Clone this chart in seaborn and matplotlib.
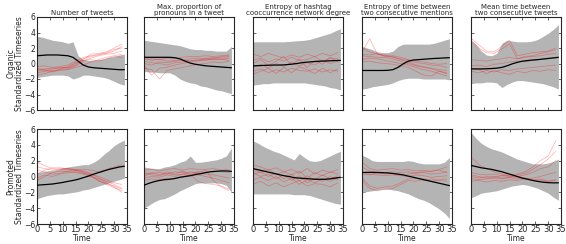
import numpy as np
import pandas as pd
import seaborn as sns
import matplotlib.pyplot as plt

# time grids
t_band = [0, 2, 4, 6, 8, 10, 12, 14, 16, 18, 20, 22, 24, 26, 28, 30, 32, 34]
t_red = [0, 3, 6, 9, 12, 15, 18, 21, 24, 27, 30, 33]

titles = ['Number of tweets', 'Max. proportion of\npronouns in a tweet',
          'Entropy of hashtag\ncooccurrence network degree',
          'Entropy of time between\ntwo consecutive mentions',
          'Mean time between\ntwo consecutive tweets']
row_names = ['Organic', 'Promoted']

# ---- Organic row ----
mean_org_tweets = [1.0, 1.05, 1.1, 1.1, 1.1, 1.05, 1.0, 0.8, 0.3, -0.2, -0.45, -0.55, -0.6, -0.65, -0.7, -0.75, -0.8, -0.8]
up_org_tweets = [3.5, 3.4, 3.2, 3.0, 2.9, 2.8, 2.6, 2.8, 1.0, 0.5, 0.4, 0.4, 0.5, 0.6, 0.8, 0.9, 1.1, 1.2]
lo_org_tweets = [-1.8, -1.7, -1.6, -1.5, -1.5, -1.5, -1.6, -2.0, -1.8, -1.5, -1.5, -1.6, -1.7, -1.8, -2.0, -2.3, -2.6, -2.8]
red_org_tweets = [
    [-0.4, -0.3, -0.5, -0.4, -0.2, 0.3, 0.8, 1.0, 1.2, 1.3, 1.6, 2.2],
    [-0.8, -0.7, -0.6, -0.6, -0.5, 0.0, 0.6, 0.9, 1.1, 1.4, 1.8, 2.0],
    [-1.2, -1.0, -0.9, -0.8, -0.7, -0.3, 0.3, 0.7, 1.0, 1.2, 1.3, 1.6],
    [-1.5, -1.3, -1.0, -0.9, -0.8, -0.5, -0.2, 0.2, 0.5, 0.8, 1.0, 1.2],
    [-0.6, -0.9, -0.7, -0.5, -0.6, -0.2, 0.5, 1.2, 1.3, 1.5, 2.0, 2.5],
    [-1.0, -0.8, -1.1, -0.7, -0.4, 0.1, 0.4, 0.5, 0.3, 0.6, 0.9, 0.8]]

mean_org_pron = [0.8, 0.8, 0.8, 0.8, 0.8, 0.8, 0.75, 0.6, 0.3, 0.05, -0.1, -0.2, -0.3, -0.35, -0.4, -0.45, -0.5, -0.55]
up_org_pron = [3.0, 2.9, 2.8, 2.7, 2.6, 2.5, 2.4, 2.3, 2.1, 1.9, 1.8, 1.8, 1.7, 1.7, 1.6, 1.6, 1.6, 2.2]
lo_org_pron = [-1.0, -1.1, -1.1, -1.2, -1.2, -1.2, -1.5, -2.0, -2.3, -2.5, -2.6, -2.9, -3.0, -3.2, -3.4, -3.5, -3.7, -3.9]
red_org_pron = [
    [0.5, 0.6, 0.5, 0.7, 0.6, 0.8, 0.9, 0.9, 1.0, 0.9, 1.0, 1.1],
    [0.0, -0.2, 0.2, 0.1, 0.3, 0.4, 0.6, 0.7, 0.6, 0.8, 0.7, 0.9],
    [-0.3, -1.5, -0.6, -0.5, -0.2, 0.0, 0.2, 0.4, 0.5, 0.5, 0.6, 0.4],
    [0.8, 0.4, 0.6, 0.3, 0.4, 0.5, 0.3, 0.5, 0.4, 0.6, 0.5, 0.7],
    [-0.6, -0.8, -2.0, -0.9, -0.7, -0.5, -0.3, -0.1, 0.0, 0.2, 0.1, 0.3],
    [0.3, 0.1, 0.0, -0.2, 0.1, 0.2, 0.4, 0.3, 0.7, 0.6, 0.9, 1.0]]

mean_org_hash = [-0.3, -0.28, -0.25, -0.22, -0.2, -0.2, -0.18, -0.12, -0.05, 0.05, 0.15, 0.2, 0.25, 0.3, 0.32, 0.35, 0.38, 0.4]
up_org_hash = [2.8, 2.8, 2.8, 2.8, 2.8, 2.8, 2.8, 2.85, 2.9, 2.95, 3.0, 3.1, 3.3, 3.5, 3.7, 3.9, 4.2, 4.5]
lo_org_hash = [-2.8, -2.7, -2.6, -2.6, -2.5, -2.5, -2.5, -2.5, -2.5, -2.5, -2.5, -2.6, -2.7, -2.8, -2.9, -3.1, -3.2, -3.4]
red_org_hash = [
    [1.2, 0.9, 1.3, 1.0, 0.7, 1.1, 0.8, 1.2, 0.9, 1.3, 1.0, 1.4],
    [0.4, 0.7, 0.2, 0.6, 0.3, 0.8, 0.4, 0.5, 0.9, 0.3, 0.7, 0.6],
    [-0.5, -0.1, -0.6, 0.0, -0.4, 0.2, -0.3, 0.1, -0.2, 0.4, 0.0, 0.3],
    [-1.0, -0.7, -1.2, -0.8, -1.1, -0.6, -0.9, -1.0, -0.7, -1.1, -0.8, -1.0],
    [0.0, 0.5, -0.3, 0.3, 0.9, -0.2, 0.6, -0.5, 0.4, -0.1, 0.8, 0.2],
    [-1.4, -1.0, -0.6, -1.3, -0.5, -1.2, -0.4, -0.8, -1.3, -0.6, -1.2, -0.7]]

mean_org_ment = [-0.9, -0.9, -0.9, -0.9, -0.9, -0.88, -0.8, -0.5, -0.05, 0.3, 0.45, 0.5, 0.55, 0.6, 0.65, 0.68, 0.72, 0.75]
up_org_ment = [2.2, 2.0, 1.8, 1.5, 1.4, 1.4, 1.6, 2.2, 2.5, 2.5, 2.5, 2.5, 2.5, 2.5, 2.6, 2.8, 3.0, 3.2]
lo_org_ment = [-3.3, -3.2, -3.0, -2.9, -2.8, -2.7, -2.5, -2.2, -2.0, -1.9, -1.9, -1.9, -2.0, -2.0, -2.0, -2.0, -2.0, -2.1]
red_org_ment = [
    [1.5, 3.2, 1.2, 1.0, 0.9, 0.5, 0.2, -0.2, -0.4, -0.6, -0.8, -0.9],
    [1.0, 0.9, 0.8, 0.8, 0.6, 0.3, 0.0, -0.3, -0.5, -0.7, -1.0, -1.2],
    [0.5, 0.7, 0.6, 0.4, 0.2, 0.0, -0.2, -0.5, -0.8, -1.0, -1.3, -1.6],
    [2.0, 1.5, 1.2, 1.1, 0.8, 0.6, 0.4, 0.1, 0.0, -0.2, -0.3, -0.5],
    [0.2, 0.3, 0.1, 0.0, -0.1, -0.3, -0.5, -1.0, -1.5, -1.6, -1.0, -1.3],
    [1.2, 1.1, 1.3, 0.9, 1.0, 0.8, 0.5, 0.3, 0.2, 0.0, -0.1, 0.0]]

mean_org_mtime = [-0.7, -0.7, -0.7, -0.68, -0.65, -0.6, -0.5, -0.3, -0.05, 0.15, 0.3, 0.38, 0.45, 0.5, 0.58, 0.65, 0.72, 0.8]
up_org_mtime = [3.0, 2.4, 1.6, 1.1, 1.0, 1.3, 2.6, 3.0, 2.9, 2.8, 2.8, 2.8, 2.9, 3.1, 3.5, 3.9, 4.4, 5.0]
lo_org_mtime = [-2.6, -2.5, -2.5, -2.4, -2.4, -2.5, -3.1, -2.7, -2.4, -2.2, -2.2, -2.3, -2.4, -2.5, -2.6, -2.8, -3.0, -3.3]
red_org_mtime = [
    [3.3, 2.4, 1.6, 1.5, 2.2, 3.0, 1.0, 1.2, 1.4, 1.5, 1.6, 2.0],
    [3.0, 2.0, 1.4, 1.3, 1.9, 2.5, 0.6, 0.9, 1.0, 1.3, 1.5, 1.8],
    [0.5, 0.4, 0.3, 0.5, 0.6, 0.8, 0.6, 0.8, 0.9, 1.0, 1.2, 1.3],
    [-0.3, -0.2, -0.4, -0.1, 0.0, 0.2, 0.3, 0.2, 0.4, 0.5, 0.6, 0.8],
    [-1.0, -1.2, -0.9, -1.1, -0.8, -0.9, -0.7, -0.6, -0.5, -0.4, -0.3, -0.2],
    [-0.6, -0.8, -1.3, -0.9, -1.2, -1.4, -1.0, -1.2, -0.9, -1.0, -0.8, -0.9]]

# ---- Promoted row ----
mean_pro_tweets = [-1.1, -1.05, -1.0, -0.95, -0.85, -0.75, -0.62, -0.5, -0.35, -0.15, 0.05, 0.3, 0.5, 0.7, 0.9, 1.05, 1.2, 1.3]
up_pro_tweets = [0.5, 0.6, 0.7, 0.8, 0.9, 1.1, 1.2, 1.3, 1.4, 1.5, 1.5, 1.8, 2.2, 2.8, 3.3, 3.9, 4.3, 4.6]
lo_pro_tweets = [-2.8, -2.6, -2.4, -2.3, -2.2, -2.2, -2.1, -2.0, -1.9, -1.7, -1.6, -1.4, -1.2, -1.0, -0.8, -0.6, -0.4, -0.2]
red_pro_tweets = [
    [1.8, 1.4, 1.0, 0.9, 0.9, 0.8, 0.6, 0.3, 0.0, -0.4, -0.8, -1.0],
    [1.2, 1.0, 0.8, 1.0, 1.0, 0.9, 0.7, 0.4, -0.2, -0.6, -1.0, -1.5],
    [0.3, 0.8, 1.1, 1.1, 1.0, 0.8, 0.5, 0.0, -0.5, -1.0, -1.4, -1.8],
    [-0.5, 0.0, 0.5, 0.7, 0.6, 0.5, 0.3, 0.0, -0.3, -0.8, -1.3, -2.0],
    [0.8, 0.6, 0.3, 0.4, 0.7, 0.8, 0.9, 0.8, 0.6, 0.9, 1.2, 1.5],
    [-0.2, 0.2, 0.0, 0.3, 0.5, 0.6, 0.4, 0.2, -0.6, -0.9, -1.2, -1.6]]

mean_pro_pron = [-1.1, -0.85, -0.65, -0.5, -0.4, -0.35, -0.25, -0.1, 0.0, 0.1, 0.25, 0.35, 0.5, 0.6, 0.65, 0.7, 0.7, 0.65]
up_pro_pron = [1.2, 1.1, 1.0, 1.0, 1.2, 1.3, 1.5, 1.8, 2.0, 2.6, 1.8, 1.8, 1.9, 2.0, 2.1, 2.3, 2.6, 3.6]
lo_pro_pron = [-4.0, -3.6, -3.2, -2.9, -2.8, -2.5, -2.2, -1.8, -1.5, -1.2, -0.9, -0.8, -0.8, -0.8, -0.8, -0.9, -1.1, -2.0]
red_pro_pron = [
    [0.8, 0.9, 0.7, 0.9, 1.0, 0.8, 1.0, 0.9, 0.9, 1.0, 0.8, 0.9],
    [0.3, 0.4, 0.5, 0.3, 0.6, 0.5, 0.4, 0.6, 0.5, 0.7, 0.6, 0.5],
    [-0.2, 0.0, -0.1, 0.2, 0.0, 0.3, 0.1, 0.2, 0.0, -0.2, -0.5, -0.8],
    [-0.5, -0.3, -0.4, -0.2, -0.3, 0.0, 0.2, -0.6, -0.9, -1.0, -1.2, -1.6],
    [0.5, 0.2, 0.1, 0.4, 0.2, 0.3, 0.6, 0.4, 0.3, 0.2, 0.0, -0.2],
    [0.0, 0.5, 0.2, 0.6, 0.3, 0.7, 0.2, 0.5, 0.8, -0.5, -1.3, -1.8]]

mean_pro_hash = [1.0, 0.85, 0.7, 0.55, 0.4, 0.25, 0.1, 0.0, -0.15, -0.2, -0.25, -0.3, -0.35, -0.35, -0.35, -0.3, -0.2, -0.1]
up_pro_hash = [4.5, 4.2, 3.8, 3.5, 3.2, 3.0, 2.7, 2.4, 2.1, 2.9, 2.4, 2.0, 1.9, 2.0, 2.3, 2.6, 2.9, 3.2]
lo_pro_hash = [-2.2, -2.2, -2.2, -2.2, -2.2, -2.2, -2.2, -2.2, -2.3, -2.3, -2.3, -2.4, -2.6, -2.8, -3.0, -3.2, -3.4, -3.5]
red_pro_hash = [
    [1.5, 1.2, 0.8, 1.1, 0.6, 0.9, 0.4, 1.0, 0.3, 0.8, 0.5, 0.9],
    [0.8, 0.5, 0.9, 0.3, 0.6, 0.2, 0.7, -0.2, 0.5, 0.1, 0.6, 0.3],
    [0.2, 0.6, 0.0, 0.4, -0.3, 0.3, -0.6, 0.1, -0.4, 0.2, -0.3, 0.1],
    [-0.4, -0.1, -0.5, 0.0, -0.7, -0.2, -1.0, -0.4, -0.8, -0.3, -0.6, -0.2],
    [-1.0, -0.6, -1.2, -0.8, -1.3, -0.9, -0.5, -1.2, -0.9, -1.0, -1.3, -0.8],
    [0.5, 0.0, 0.3, -0.3, 0.2, -0.5, 0.1, -0.8, -0.2, -0.6, 0.0, -0.4]]

mean_pro_ment = [0.5, 0.52, 0.52, 0.5, 0.48, 0.45, 0.38, 0.3, 0.2, 0.05, -0.1, -0.25, -0.4, -0.55, -0.7, -0.85, -1.0, -1.15]
up_pro_ment = [2.7, 2.4, 2.0, 1.9, 1.9, 1.9, 1.9, 1.9, 1.9, 2.0, 1.9, 1.7, 1.6, 1.6, 1.6, 1.6, 1.8, 2.4]
lo_pro_ment = [-2.0, -1.9, -1.8, -1.7, -1.6, -1.6, -1.7, -1.8, -2.0, -2.2, -2.5, -2.8, -3.0, -3.3, -3.7, -4.1, -4.6, -5.3]
red_pro_ment = [
    [1.8, 1.0, 0.8, 0.9, 1.0, 0.8, 0.9, 0.7, 0.8, 0.6, 0.9, 1.2],
    [1.2, 0.7, 0.6, 0.5, 0.6, 0.5, 0.6, 0.4, 0.5, 0.3, 0.4, 0.6],
    [0.2, 0.3, 0.2, 0.1, 0.2, 0.1, 0.0, 0.2, 0.1, -0.1, 0.0, 0.1],
    [-0.5, -1.5, -1.8, -1.6, -1.5, -1.0, -0.5, -0.6, -0.3, -0.6, -0.4, -0.3],
    [-0.2, -1.2, -1.5, -1.3, -1.2, -0.8, -0.3, -0.2, -0.5, -0.3, -0.5, -0.6],
    [0.6, 0.2, 0.5, 0.3, 0.4, 0.2, 0.3, 0.5, 0.6, 0.7, 0.8, 0.5]]

mean_pro_mtime = [1.4, 1.25, 1.1, 1.0, 0.9, 0.75, 0.6, 0.4, 0.2, 0.0, -0.2, -0.35, -0.5, -0.62, -0.72, -0.78, -0.8, -0.8]
up_pro_mtime = [5.6, 4.8, 4.2, 3.8, 3.5, 3.3, 3.1, 2.8, 2.5, 2.2, 2.0, 1.8, 1.6, 1.6, 1.6, 1.7, 1.9, 2.2]
lo_pro_mtime = [-2.7, -2.4, -2.1, -2.0, -1.9, -1.8, -1.6, -1.4, -1.2, -1.1, -1.0, -1.1, -1.3, -1.5, -1.8, -2.1, -2.6, -3.0]
red_pro_mtime = [
    [0.5, 0.3, 0.2, 0.3, 0.1, 0.2, 0.3, 0.6, 1.2, 2.0, 2.6, 4.5],
    [0.0, -0.2, 0.0, -0.1, 0.1, 0.0, 0.2, 0.4, 0.9, 1.5, 2.2, 3.2],
    [-0.3, -0.4, -0.3, -0.2, -0.3, -0.1, 0.0, 0.2, 0.5, 1.0, 1.2, 2.0],
    [-0.6, -0.5, -0.7, -0.5, -0.6, -0.4, -0.5, -0.3, -0.2, 0.0, 0.3, 0.5],
    [2.5, 1.5, 1.0, 0.6, 0.3, 0.1, -0.1, -0.2, -0.4, -0.5, -0.6, -0.5],
    [0.2, 0.0, -0.2, 0.0, -0.2, -0.1, -0.3, -0.2, -0.5, -0.3, -0.6, -0.4]]

panels = [
    [(mean_org_tweets, up_org_tweets, lo_org_tweets, red_org_tweets),
     (mean_org_pron, up_org_pron, lo_org_pron, red_org_pron),
     (mean_org_hash, up_org_hash, lo_org_hash, red_org_hash),
     (mean_org_ment, up_org_ment, lo_org_ment, red_org_ment),
     (mean_org_mtime, up_org_mtime, lo_org_mtime, red_org_mtime)],
    [(mean_pro_tweets, up_pro_tweets, lo_pro_tweets, red_pro_tweets),
     (mean_pro_pron, up_pro_pron, lo_pro_pron, red_pro_pron),
     (mean_pro_hash, up_pro_hash, lo_pro_hash, red_pro_hash),
     (mean_pro_ment, up_pro_ment, lo_pro_ment, red_pro_ment),
     (mean_pro_mtime, up_pro_mtime, lo_pro_mtime, red_pro_mtime)],
]

sns.set_style('ticks', {'xtick.direction': 'in', 'ytick.direction': 'in'})
plt.rcParams['font.family'] = ['DejaVu Sans']

W, H = 566, 244
fig = plt.figure(figsize=(W / 100, H / 100), dpi=100)

lefts = [37, 144, 253, 362, 471]
row_bottoms = [110, 224]
row_heights = [93, 95]

for r in range(2):
    for c in range(5):
        mean, up, lo, reds = panels[r][c]
        ax = fig.add_axes([lefts[c] / W, 1 - row_bottoms[r] / H, 90 / W, row_heights[r] / H])

        ax.fill_between(t_band, lo, up, color='#b4b4b4', lw=0, zorder=1)

        red_df = pd.DataFrame({
            't': t_red * len(reds),
            'v': [v for line in reds for v in line],
            'u': [i for i, line in enumerate(reds) for _ in line]})
        sns.lineplot(data=red_df, x='t', y='v', units='u', estimator=None,
                     color='red', alpha=0.3, lw=0.55, ax=ax, zorder=2)

        mean_df = pd.DataFrame({'t': t_band, 'v': mean})
        sns.lineplot(data=mean_df, x='t', y='v', color='black', lw=0.9, ax=ax, zorder=3)

        ax.set_xlim(0, 35)
        ax.set_ylim(-6, 6)
        ax.set_xticks(range(0, 36, 5))
        ax.set_yticks(range(-6, 7, 2))
        ax.tick_params(top=True, right=True, length=2, width=0.5, labelsize=6, pad=1)
        ax.tick_params(axis='y', labelsize=5.5)
        for s in ax.spines.values():
            s.set_linewidth(0.8)

        if r == 0:
            ax.set_title(titles[c], fontsize=5, pad=1.5, linespacing=1.0)
            ax.set_xticklabels([])
            ax.set_xlabel('')
        else:
            ax.set_xlabel('Time', fontsize=5.5, labelpad=0)
        if c == 0:
            ax.set_ylabel('Standardized Timeseries', fontsize=5.5)
            ax.yaxis.set_label_coords(-13 / 90, 0.5)
            yc = 1 - (row_bottoms[r] - row_heights[r] / 2) / H
            fig.text(11 / W, yc, row_names[r], rotation=90, fontsize=5.5,
                     ha='center', va='center')
        else:
            ax.set_yticklabels([])
            ax.set_ylabel('')

fig.savefig('out.png', dpi=100)
